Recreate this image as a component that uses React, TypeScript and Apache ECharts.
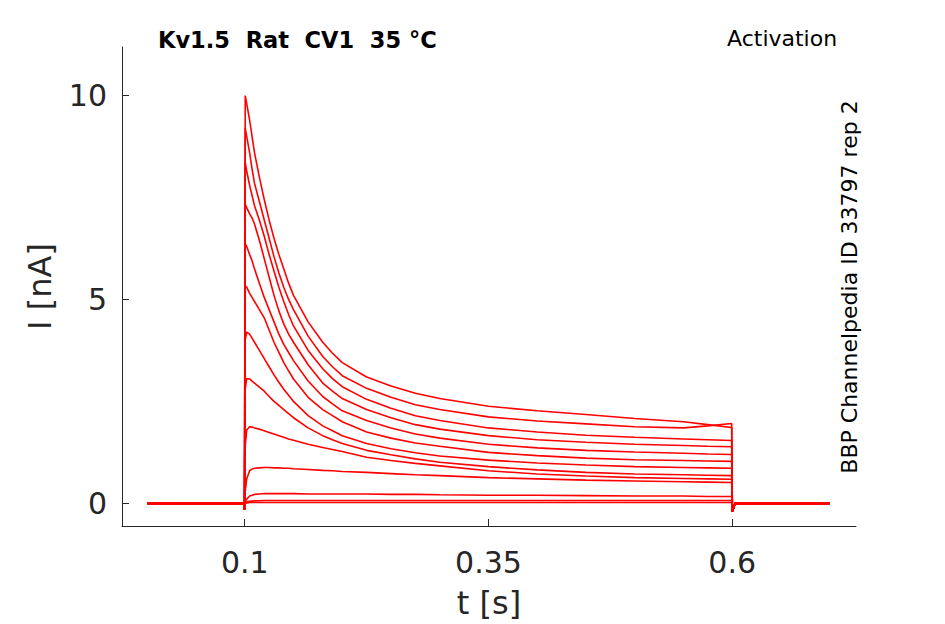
import React, { useEffect, useRef } from "react";
import * as echarts from "echarts";

const times = [0, 0.0995, 0.0998, 0.1005, 0.102, 0.105, 0.1075, 0.11, 0.115, 0.12, 0.125, 0.13, 0.135, 0.14, 0.145, 0.15, 0.165, 0.18, 0.19, 0.2, 0.225, 0.25, 0.275, 0.3, 0.35, 0.4, 0.45, 0.5, 0.55, 0.575, 0.5995, 0.6002, 0.603, 0.7];

const trace1 = [0, 0, -0.15, 10.0, 9.8, 9.4, 9.0, 8.6, 8.0, 7.45, 6.95, 6.5, 6.1, 5.75, 5.4, 5.1, 4.45, 3.95, 3.68, 3.45, 3.1, 2.88, 2.7, 2.57, 2.38, 2.27, 2.18, 2.08, 2.0, 1.93, 1.86, -0.2, 0, 0];
const trace2 = [0, 0, -0.15, 9.2, 9.0, 8.6, 8.2, 7.85, 7.4, 6.95, 6.5, 6.05, 5.65, 5.3, 5.0, 4.75, 4.1, 3.6, 3.35, 3.13, 2.82, 2.6, 2.42, 2.3, 2.12, 2.02, 1.95, 1.88, 1.85, 1.9, 1.96, -0.2, 0, 0];
const trace3 = [0, 0, -0.15, 8.36, 8.15, 7.8, 7.55, 7.3, 6.95, 6.55, 6.1, 5.7, 5.3, 4.95, 4.63, 4.35, 3.75, 3.3, 3.06, 2.86, 2.55, 2.33, 2.15, 2.03, 1.85, 1.75, 1.67, 1.62, 1.58, 1.56, 1.54, -0.2, 0, 0];
const trace4 = [0, 0, -0.15, 7.33, 7.25, 7.1, 7.0, 6.85, 6.45, 6.0, 5.55, 5.1, 4.72, 4.4, 4.15, 3.95, 3.4, 2.95, 2.75, 2.57, 2.3, 2.1, 1.93, 1.82, 1.66, 1.56, 1.5, 1.45, 1.42, 1.4, 1.39, -0.2, 0, 0];
const trace5 = [0, 0, -0.15, 6.36, 6.3, 6.1, 5.95, 5.75, 5.4, 5.05, 4.75, 4.45, 4.15, 3.9, 3.7, 3.5, 3.0, 2.62, 2.44, 2.27, 2.03, 1.85, 1.7, 1.6, 1.45, 1.36, 1.3, 1.26, 1.23, 1.21, 1.2, -0.2, 0, 0];
const trace6 = [0, 0, -0.15, 5.33, 5.3, 5.15, 5.05, 4.95, 4.75, 4.55, 4.25, 3.95, 3.7, 3.45, 3.25, 3.05, 2.6, 2.3, 2.15, 2.0, 1.75, 1.6, 1.48, 1.4, 1.25, 1.17, 1.11, 1.07, 1.05, 1.04, 1.03, -0.2, 0, 0];
const trace7 = [0, 0, -0.15, 4.0, 4.2, 4.15, 4.05, 3.95, 3.75, 3.55, 3.35, 3.15, 2.97, 2.8, 2.65, 2.5, 2.15, 1.9, 1.78, 1.66, 1.47, 1.34, 1.24, 1.16, 1.06, 0.99, 0.94, 0.9, 0.88, 0.87, 0.86, -0.2, 0, 0];
const trace8 = [0, 0, -0.15, 2.8, 3.06, 3.05, 3.0, 2.95, 2.85, 2.75, 2.62, 2.5, 2.4, 2.3, 2.2, 2.1, 1.85, 1.66, 1.56, 1.47, 1.3, 1.19, 1.09, 1.01, 0.9, 0.82, 0.76, 0.72, 0.7, 0.69, 0.68, -0.2, 0, 0];
const trace9 = [0, 0, -0.15, 1.4, 1.8, 1.88, 1.87, 1.85, 1.82, 1.78, 1.74, 1.7, 1.66, 1.62, 1.58, 1.55, 1.45, 1.37, 1.32, 1.27, 1.13, 1.05, 0.98, 0.92, 0.8, 0.72, 0.67, 0.63, 0.61, 0.6, 0.59, -0.2, 0, 0];
const trace10 = [0, 0, -0.15, 0.3, 0.6, 0.8, 0.84, 0.86, 0.87, 0.88, 0.88, 0.87, 0.87, 0.86, 0.86, 0.85, 0.83, 0.81, 0.8, 0.78, 0.76, 0.73, 0.7, 0.68, 0.63, 0.6, 0.57, 0.55, 0.53, 0.52, 0.51, -0.2, 0, 0];
const trace11 = [0, 0, -0.15, 0.05, 0.1, 0.18, 0.2, 0.22, 0.23, 0.24, 0.24, 0.24, 0.24, 0.24, 0.24, 0.24, 0.23, 0.23, 0.23, 0.23, 0.23, 0.22, 0.22, 0.21, 0.2, 0.2, 0.19, 0.18, 0.18, 0.17, 0.17, -0.2, 0, 0];
const trace12 = [0, 0, -0.15, 0.02, 0.04, 0.05, 0.055, 0.06, 0.065, 0.07, 0.07, 0.07, 0.07, 0.07, 0.07, 0.07, 0.07, 0.07, 0.07, 0.07, 0.07, 0.07, 0.07, 0.07, 0.07, 0.07, 0.07, 0.07, 0.07, 0.07, 0.07, -0.2, 0, 0];
const trace13 = [0, 0, -0.15, 0, 0.01, 0.02, 0.02, 0.02, 0.02, 0.02, 0.02, 0.02, 0.02, 0.02, 0.02, 0.02, 0.02, 0.02, 0.02, 0.02, 0.02, 0.02, 0.02, 0.02, 0.02, 0.02, 0.02, 0.02, 0.02, 0.02, 0.02, -0.2, 0, 0];

const traces = [trace13, trace12, trace11, trace10, trace9, trace8, trace7, trace6, trace5, trace4, trace3, trace2, trace1];

const xTicks = [0.1, 0.35, 0.6];
const yTicks = [0, 5, 10];

const titleText = "Kv1.5  Rat  CV1  35 °C";
const protocolText = "Activation";
const sourceText = "BBP Channelpedia ID 33797 rep 2";

const FONT = "DejaVu Sans";
const AXIS_COLOR = "#262626";

export default function App() {
  const ref = useRef<HTMLDivElement>(null);

  useEffect(() => {
    document.body.style.margin = "0";
    if (!ref.current) return;
    const chart = echarts.init(ref.current, undefined, { renderer: "svg" });
    chart.setOption({
      animation: false,
      backgroundColor: "#ffffff",
      grid: { left: 122, top: 47, width: 734, height: 480, containLabel: false },
      xAxis: {
        type: "value",
        min: -0.0259,
        max: 0.727,
        name: "t [s]",
        nameLocation: "middle",
        nameGap: 61,
        nameTextStyle: { fontFamily: FONT, fontSize: 32, color: AXIS_COLOR },
        axisLine: { show: true, onZero: false, lineStyle: { color: AXIS_COLOR, width: 1 } },
        axisTick: { show: true, inside: true, length: 7, customValues: xTicks, lineStyle: { color: AXIS_COLOR } },
        axisLabel: {
          customValues: xTicks,
          margin: 21,
          fontFamily: FONT,
          fontSize: 30,
          color: AXIS_COLOR,
          formatter: (v: number) => String(Math.round(v * 100) / 100),
        },
        splitLine: { show: false },
      },
      yAxis: {
        type: "value",
        min: -0.555,
        max: 11.19,
        name: "I [nA]",
        nameLocation: "middle",
        nameGap: 66,
        nameTextStyle: { fontFamily: FONT, fontSize: 32, color: AXIS_COLOR },
        axisLine: { show: true, onZero: false, lineStyle: { color: AXIS_COLOR, width: 1 } },
        axisTick: { show: true, inside: true, length: 7, customValues: yTicks, lineStyle: { color: AXIS_COLOR } },
        axisLabel: {
          customValues: yTicks,
          margin: 15,
          fontFamily: FONT,
          fontSize: 30,
          color: AXIS_COLOR,
          formatter: (v: number) => String(v),
        },
        splitLine: { show: false },
      },
      graphic: [
        {
          type: "text",
          left: 158,
          top: 28,
          style: { text: titleText, fontFamily: FONT, fontSize: 22.5, fontWeight: "bold", fill: "#000000" },
        },
        {
          type: "text",
          left: 727,
          top: 27,
          style: { text: protocolText, fontFamily: FONT, fontSize: 22, fill: "#000000" },
        },
        {
          type: "text",
          x: 849,
          y: 287,
          rotation: Math.PI / 2,
          style: {
            text: sourceText,
            fontFamily: FONT,
            fontSize: 22,
            fill: "#000000",
            align: "center",
            verticalAlign: "middle",
          },
        },
      ],
      series: traces.map((vals) => ({
        type: "line",
        showSymbol: false,
        symbol: "none",
        silent: true,
        lineStyle: { color: "#ff0000", width: 1.6 },
        data: times.map((t, i) => [t, vals[i]]),
      })),
    });
    return () => chart.dispose();
  }, []);

  return <div ref={ref} style={{ width: 945, height: 624 }} />;
}
